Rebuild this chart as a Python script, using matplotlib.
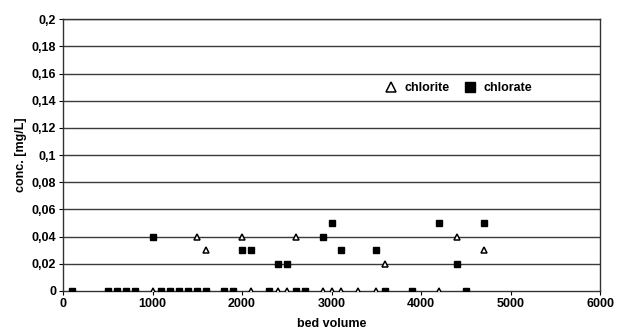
import numpy as np
import matplotlib.pyplot as plt
from matplotlib.ticker import FuncFormatter

plt.rcParams['font.family'] = ['Liberation Sans', 'DejaVu Sans']
plt.rcParams['font.weight'] = 'bold'
plt.rcParams['axes.labelweight'] = 'bold'

# chlorite (open triangles)
chlorite_bv = [1000, 1500, 1600, 2000, 2100, 2400, 2500, 2600, 2900, 3000,
               3100, 3300, 3500, 3600, 4200, 4400, 4700]
chlorite_conc = [0, 0.04, 0.03, 0.04, 0, 0, 0, 0.04, 0, 0,
                 0, 0, 0, 0.02, 0, 0.04, 0.03]

# chlorate (filled squares)
chlorate_bv = [100, 500, 600, 700, 800, 1000, 1100, 1200, 1300, 1400, 1500, 1600,
               1800, 1900, 2000, 2100, 2300, 2400, 2500, 2600, 2700, 2900, 3000,
               3100, 3500, 3600, 3900, 4200, 4400, 4500, 4700]
chlorate_conc = [0, 0, 0, 0, 0, 0.04, 0, 0, 0, 0, 0, 0,
                 0, 0, 0.03, 0.03, 0, 0.02, 0.02, 0, 0, 0.04, 0.05,
                 0.03, 0.03, 0, 0, 0.05, 0.02, 0, 0.05]

yticks = np.arange(0, 0.201, 0.02)
xticks = [0, 1000, 2000, 3000, 4000, 5000, 6000]


def comma(v, pos):
    s = ('%.2f' % v).rstrip('0').rstrip('.')
    return s.replace('.', ',')


fig = plt.figure(figsize=(6.18, 3.36), dpi=100)
ax = fig.add_axes([0.102, 0.134, 0.869, 0.809])

for y in yticks[1:]:
    ax.axhline(y, color='#3a3a3a', lw=1.0, zorder=1)

ax.plot(chlorite_bv, chlorite_conc, linestyle='none', marker='^', ms=5,
        mfc='white', mec='black', mew=1.1, label='chlorite', zorder=3)
ax.plot(chlorate_bv, chlorate_conc, linestyle='none', marker='s', ms=4.8,
        mfc='black', mec='black', label='chlorate', zorder=3)

ax.set_xlim(0, 6000)
ax.set_ylim(0, 0.2)
ax.set_xticks(xticks)
ax.set_yticks(yticks)
ax.yaxis.set_major_formatter(FuncFormatter(comma))
ax.tick_params(axis='both', labelsize=9, length=3, width=0.8, pad=2)
for s in ax.spines.values():
    s.set_color('#333333')
    s.set_linewidth(1.0)

ax.set_xlabel('bed volume', fontsize=9, labelpad=6)
ax.set_ylabel('conc. [mg/L]', fontsize=9, labelpad=3)

leg = ax.legend(loc='center', bbox_to_anchor=(0.73, 0.745), ncol=2, frameon=False,
                fontsize=9, handletextpad=0.1, columnspacing=0.6, markerscale=1.5)

fig.savefig('out.png', dpi=100)
